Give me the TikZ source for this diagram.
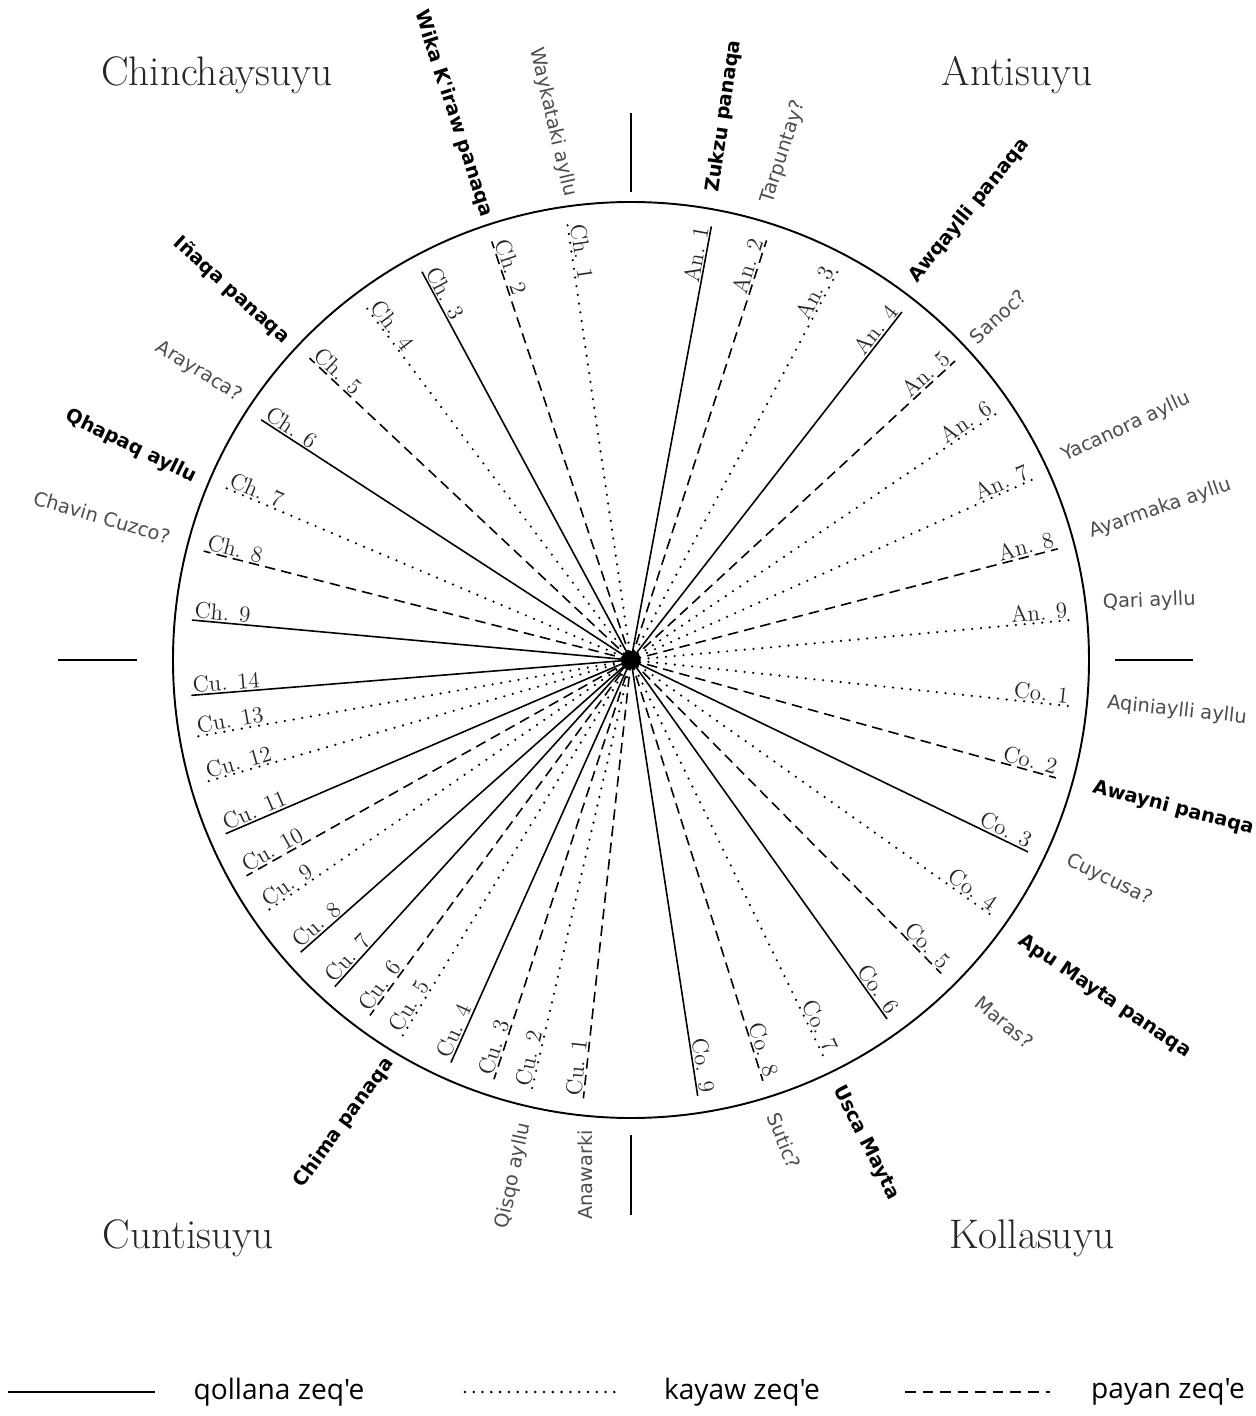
\documentclass[tikz,border=0pt]{standalone}
\usepackage{fontspec}
\newfontfamily\zsans{DejaVu Sans}
\newfontfamily\legsans{Open Sans}
\begin{document}
\begin{tikzpicture}[x=0.02cm, y=0.02cm,
    qollana/.style={line width=0.9pt},
    kayaw/.style={line width=1.4pt, line cap=round, dash pattern=on 0pt off 5pt},
    payan/.style={line width=0.9pt, dash pattern=on 6pt off 3.5pt},
    zlabel/.style={inner sep=1pt, text=black!85, font=\fontsize{13}{15}\selectfont},
    panaqa/.style={inner sep=0pt, font=\zsans\bfseries\fontsize{11}{13}\selectfont},
    ayllu/.style={inner sep=0pt, text=black!70, font=\zsans\fontsize{11}{13}\selectfont},
    suyu/.style={text=black!85, font=\fontsize{23.5}{28}\selectfont},
    legend/.style={font=\legsans\fontsize{16}{18}\selectfont}]
  \useasboundingbox (-631,-756) rectangle (625,660);
  \coordinate (ctr) at (0,0);
  % circle and the four suyu borders
  \draw[line width=1.1pt] (ctr) circle (458);
  \foreach \a/\r/\R in {90/468/547, 0/484/562, 270/475/555, 180/494/573}
    \draw[line width=1.3pt] (\a:\r) -- (\a:\R);
  % zeq'e lines, west half (Chinchaysuyu, Cuntisuyu)
  \foreach \a/\t/\s [count=\i] in {98.3/Ch. 1/kayaw, 108.4/Ch. 2/payan, 118.3/Ch. 3/qollana,
      126.9/Ch. 4/kayaw, 136.8/Ch. 5/payan, 147/Ch. 6/qollana, 157/Ch. 7/kayaw,
      165.7/Ch. 8/payan, 174.8/Ch. 9/qollana, 184.6/Cu. 14/qollana, 190/Cu. 13/kayaw,
      196/Cu. 12/kayaw, 203.2/Cu. 11/qollana, 209.3/Cu. 10/payan, 214.6/Cu. 9/kayaw,
      221.5/Cu. 8/qollana, 227.8/Cu. 7/qollana, 233.7/Cu. 6/payan, 238.7/Cu. 5/kayaw,
      245.9/Cu. 4/qollana, 251.9/Cu. 3/payan, 257/Cu. 2/kayaw, 263.8/Cu. 1/payan} {
    \coordinate (w\i) at (\a:441);
    \draw[\s] (ctr) -- (w\i);
    \node[zlabel, anchor=south west, rotate=\a-180] (lw\i) at (w\i) {\t};
  }
  % zeq'e lines, east half (Antisuyu, Kollasuyu)
  \foreach \a/\t/\s [count=\i] in {79.5/An. 1/qollana, 72.1/An. 2/payan, 62/An. 3/kayaw,
      52.1/An. 4/qollana, 42.7/An. 5/payan, 34/An. 6/kayaw, 24.2/An. 7/kayaw,
      14.6/An. 8/payan, 5.2/An. 9/kayaw, -6/Co. 1/kayaw, -15.5/Co. 2/payan,
      -25.8/Co. 3/qollana, -35.3/Co. 4/kayaw, -45.3/Co. 5/payan, -54.5/Co. 6/qollana,
      -64.1/Co. 7/kayaw, -72.6/Co. 8/payan, -81.3/Co. 9/qollana} {
    \coordinate (e\i) at (\a:441);
    \draw[\s] (ctr) -- (e\i);
    \node[zlabel, anchor=south east, rotate=\a] (le\i) at (e\i) {\t};
  }
  \fill (ctr) circle (9); % knot of lines
  % ayllu and panaqa names
  \foreach \a/\r/\rot/\t/\s [count=\i] in {108/466/-72/Wika K'iraw panaqa/panaqa,
      97.5/467/-77/Waykataki ayllu/ayllu, 137.1/470/-42/Iñaqa panaqa/panaqa,
      146.1/471/-32/Arayraca?/ayllu, 157.3/472/-26/Qhapaq ayllu/panaqa,
      165.1/477/-16.5/Chavin Cuzco?/ayllu, 238.9/467/54/Chima panaqa/panaqa,
      257.1/475/78/Qisqo ayllu/ayllu, 264.4/472/90/Anawarki/ayllu}
    \node[\s, anchor=east, rotate=\rot] (nw\i) at (\a:\r) {\t};
  \foreach \a/\r/\rot/\t/\s [count=\i] in {80/475/82/Zukzu panaqa/panaqa,
      73.4/477/72/Tarpuntay?/ayllu, 53.4/473/51/Awqaylli panaqa/panaqa,
      43.1/468/43/Sanoc?/ayllu, 25.2/477/25/Yacanora ayllu/ayllu,
      15.5/476/19/Ayarmaka ayllu/ayllu, 6.9/475/2/Qari ayllu/ayllu,
      -5.2/478/-6/Aqiniaylli ayllu/ayllu, -15.4/479/-14.5/Awayni panaqa/panaqa,
      -24.6/480/-26/Cuycusa?/ayllu, -35.7/479/-34/Apu Mayta panaqa/panaqa,
      -44.4/486/-40/Maras?/ayllu, -64.2/474/-63/Usca Mayta/panaqa,
      -72.6/475/-68/Sutic?/ayllu}
    \node[\s, anchor=west, rotate=\rot] (ne\i) at (\a:\r) {\t};
  % suyu names
  \node[suyu] (chinchay) at (-414,585) {Chinchaysuyu};
  \node[suyu] (anti) at (386,585) {Antisuyu};
  \node[suyu] (cunti) at (-443,-578) {Cuntisuyu};
  \node[suyu] (kolla) at (401,-578) {Kollasuyu};
  % legend
  \coordinate (q1) at (-623,-732); \coordinate (q2) at (-476,-732);
  \coordinate (k1) at (-166,-732); \coordinate (k2) at (-14,-732);
  \coordinate (p1) at (274,-732);  \coordinate (p2) at (419,-732);
  \draw[qollana, line width=1.5pt] (q1) -- (q2);
  \draw[kayaw, line width=1.6pt, dash pattern=on 0pt off 5pt] (k1) -- (k2);
  \draw[payan, line width=1.4pt, dash pattern=on 6pt off 4pt] (p1) -- (p2);
  \node[legend] (lq) at (-352,-732) {qollana zeq'e};
  \node[legend] (lk) at (111,-732) {kayaw zeq'e};
  \node[legend] (lp) at (537,-732) {payan zeq'e};
\end{tikzpicture}
\end{document}
